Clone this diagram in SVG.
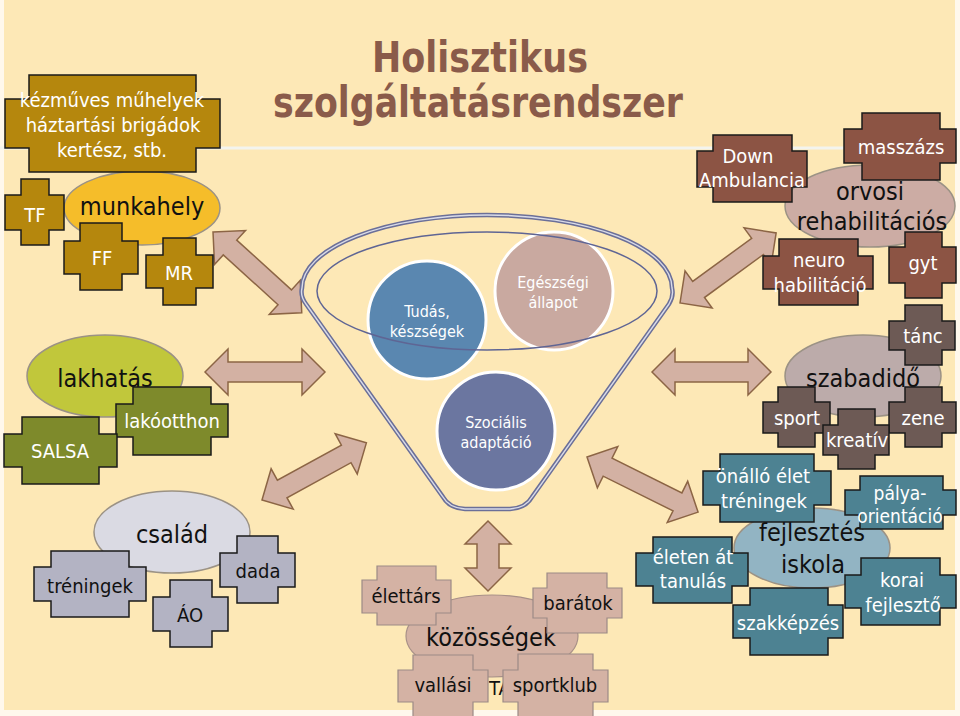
<svg xmlns="http://www.w3.org/2000/svg" width="960" height="716" viewBox="0 0 960 716">
<style>
text{font-family:"DejaVu Sans Condensed","DejaVu Sans",sans-serif;text-anchor:middle}
.w{fill:#fff;font-size:20px}
.k{fill:#111;font-size:20px}
.big{fill:#111;font-size:25px}
.ct{fill:#fff;font-size:16px}
.box{stroke:#1a1a1a;stroke-width:1.5}
.gold{fill:#B5870D}
.olive{fill:#7E8A2B}
.gray{fill:#B3B3C3}
.pink{fill:#D4B2A4;stroke:#9C8A86;stroke-width:1.2}
.brown{fill:#8C5444}
.taupe{fill:#6D5A55}
.teal{fill:#4D8292}
.ell{stroke:#9B9285;stroke-width:1.5}
.arr{fill:#D3B1A3;stroke:#8C6545;stroke-width:1.5}
.title{fill:#8A5B4A;font-weight:bold;font-size:42px}
</style>
<rect x="0" y="0" width="960" height="716" fill="#FFF8EC"/>
<rect x="4" y="0" width="951" height="710" fill="#FDE8B6"/>
<line x1="0" y1="148" x2="955" y2="148" stroke="#F3F4EE" stroke-width="3"/>

<g id="title">
<text class="title" x="480" y="72" textLength="216" lengthAdjust="spacingAndGlyphs">Holisztikus</text>
<text class="title" x="478" y="117" textLength="410" lengthAdjust="spacingAndGlyphs">szolgáltatásrendszer</text>
</g>

<g id="connectors">
<path class="arr" transform="translate(213,232) rotate(42.3)" d="M0,0 L23,-23 L23,-10 L97,-10 L97,-23 L120,0 L97,23 L97,10 L23,10 L23,23 Z"/>
<path class="arr" transform="translate(205,372)" d="M0,0 L23,-23 L23,-10 L97,-10 L97,-23 L120,0 L97,23 L97,10 L23,10 L23,23 Z"/>
<path class="arr" transform="translate(262,500) rotate(-28.7)" d="M0,0 L23,-23 L23,-10 L96,-10 L96,-23 L119,0 L96,23 L96,10 L23,10 L23,23 Z"/>
<path class="arr" transform="translate(488,521) rotate(90)" d="M0,0 L23,-23 L23,-11 L47,-11 L47,-23 L70,0 L47,23 L47,11 L23,11 L23,23 Z"/>
<path class="arr" transform="translate(587,457) rotate(26.4)" d="M0,0 L23,-23 L23,-10 L101,-10 L101,-23 L124,0 L101,23 L101,10 L23,10 L23,23 Z"/>
<path class="arr" transform="translate(652,372)" d="M0,0 L23,-23 L23,-10 L96,-10 L96,-23 L119,0 L96,23 L96,10 L23,10 L23,23 Z"/>
<path class="arr" transform="translate(680,303) rotate(-36.1)" d="M0,0 L23,-23 L23,-10 L96,-10 L96,-23 L119,0 L96,23 L96,10 L23,10 L23,23 Z"/>
</g>

<g id="funnel">
<path d="M306,304 Q300,296 302,288 A185,73 0 0 1 672,288 Q674,296 669,304 L532,497 Q526,508 510,509 L465,509 Q449,508 443,497 Z" fill="none" stroke="#6B6F98" stroke-width="4.5"/>
<path d="M306,304 Q300,296 302,288 A185,73 0 0 1 672,288 Q674,296 669,304 L532,497 Q526,508 510,509 L465,509 Q449,508 443,497 Z" fill="none" stroke="#D9DBE8" stroke-width="1.4"/>
</g>
<g id="tudas">
<circle cx="427" cy="320" r="59" fill="#5A87B0" stroke="#fff" stroke-width="3"/>
<text class="ct" x="427" y="317">Tudás,</text>
<text class="ct" x="427" y="337">készségek</text>
</g>
<g id="egeszsegi">
<circle cx="554" cy="291" r="59" fill="#C9A9A0" stroke="#fff" stroke-width="3"/>
<text class="ct" x="553" y="288">Egészségi</text>
<text class="ct" x="553" y="308">állapot</text>
</g>
<g id="szocialis">
<circle cx="496" cy="431" r="59" fill="#6B76A0" stroke="#fff" stroke-width="3"/>
<text class="ct" x="496" y="428">Szociális</text>
<text class="ct" x="496" y="448">adaptáció</text>
</g>
<g id="inner-ellipse">
<ellipse cx="487" cy="291" rx="170" ry="59" fill="none" stroke="#5F6594" stroke-width="1.5"/>
</g>

<g id="munkahely">
<ellipse class="ell" cx="142" cy="208" rx="78" ry="37" fill="#F5BD2A"/>
<text class="big" x="142" y="215">munkahely</text>
</g>
<g id="kezmuves">
<path class="box gold" d="M29,75 H196 V99 H220 V148 H196 V172 H29 V148 H5 V99 H29 Z"/>
<text class="w" x="112" y="107">kézműves műhelyek</text>
<text class="w" x="113" y="132">háztartási brigádok</text>
<text class="w" x="112" y="157">kertész, stb.</text>
</g>
<g id="tf">
<path class="box gold" d="M21,179 H49 V195 H64 V230 H49 V245 H21 V230 H5 V195 H21 Z"/>
<text class="w" x="35" y="222">TF</text>
</g>
<g id="ff">
<path class="box gold" d="M80,223 H122 V241 H138 V274 H122 V290 H80 V274 H64 V241 H80 Z"/>
<text class="w" x="102" y="265">FF</text>
</g>
<g id="mr">
<path class="box gold" d="M163,238 H196 V255 H213 V288 H196 V305 H163 V288 H146 V255 H163 Z"/>
<text class="w" x="179" y="280">MR</text>
</g>

<g id="lakhatas">
<ellipse class="ell" cx="105" cy="376" rx="78" ry="41" fill="#C1C73B"/>
<text class="big" x="105" y="387">lakhatás</text>
</g>
<g id="lakootthon">
<path class="box olive" d="M133,387 H211 V404 H228 V437 H211 V455 H133 V437 H116 V404 H133 Z"/>
<text class="w" x="172" y="428">lakóotthon</text>
</g>
<g id="salsa">
<path class="box olive" d="M22,417 H99 V434 H117 V467 H99 V484 H22 V467 H4 V434 H22 Z"/>
<text class="w" x="60" y="458">SALSA</text>
</g>

<g id="csalad">
<ellipse class="ell" cx="172" cy="532" rx="78" ry="41" fill="#DADAE3"/>
<text class="big" x="172" y="543">család</text>
</g>
<g id="treningek">
<path class="box gray" d="M51,551 H129 V567 H146 V601 H129 V617 H51 V601 H34 V567 H51 Z"/>
<text class="k" x="90" y="593">tréningek</text>
</g>
<g id="ao">
<path class="box gray" d="M170,580 H212 V597 H228 V631 H212 V647 H170 V631 H153 V597 H170 Z"/>
<text class="k" x="190" y="622">ÁO</text>
</g>
<g id="dada">
<path class="box gray" d="M237,536 H278 V553 H295 V587 H278 V603 H237 V587 H220 V553 H237 Z"/>
<text class="k" x="258" y="578">dada</text>
</g>

<g id="kozossegek">
<ellipse cx="492" cy="636" rx="86" ry="41" fill="#D4B2A4" stroke="#A89088" stroke-width="1.2"/>
<text class="big" x="491" y="646">közösségek</text>
<text class="k" x="489" y="695" style="text-anchor:start">TA</text>
</g>
<g id="elettars">
<path class="pink" d="M377,566 H436 V580 H451 V613 H436 V625 H377 V613 H362 V580 H377 Z"/>
<text class="k" x="406" y="603">élettárs</text>
</g>
<g id="baratok">
<path class="pink" d="M547,573 H607 V588 H622 V618 H607 V633 H547 V618 H533 V588 H547 Z"/>
<text class="k" x="578" y="610">barátok</text>
</g>
<g id="vallasi">
<path class="pink" d="M413,655 H473 V670 H488 V702 H473 V725 H413 V702 H398 V670 H413 Z"/>
<text class="k" x="443" y="692">vallási</text>
</g>
<g id="sportklub">
<path class="pink" d="M518,654 H593 V670 H608 V702 H593 V725 H518 V702 H503 V670 H518 Z"/>
<text class="k" x="555" y="692">sportklub</text>
</g>

<g id="orvosi">
<ellipse class="ell" cx="870" cy="206" rx="85" ry="41" fill="#CCACA4"/>
<text class="big" x="870" y="200">orvosi</text>
<text class="big" x="872" y="230">rehabilitációs</text>
</g>
<g id="down">
<path class="box brown" d="M713,135 H792 V151 H807 V187 H792 V202 H713 V187 H697 V151 H713 Z"/>
<text class="w" x="748" y="163">Down</text>
<text class="w" x="752" y="187">Ambulancia</text>
</g>
<g id="masszazs">
<path class="box brown" d="M862,113 H940 V129 H956 V163 H940 V180 H862 V163 H844 V129 H862 Z"/>
<text class="w" x="901" y="154">masszázs</text>
</g>
<g id="neuro">
<path class="box brown" d="M779,239 H858 V256 H873 V289 H858 V305 H779 V289 H763 V256 H779 Z"/>
<text class="w" x="819" y="267">neuro</text>
<text class="w" x="820" y="292">habilitáció</text>
</g>
<g id="gyt">
<path class="box brown" d="M905,232 H942 V247 H956 V283 H942 V298 H905 V283 H889 V247 H905 Z"/>
<text class="w" x="923" y="270">gyt</text>
</g>

<g id="szabadido">
<ellipse class="ell" cx="863" cy="376" rx="78" ry="41" fill="#BCABAA"/>
<text class="big" x="863" y="387">szabadidő</text>
</g>
<g id="tanc">
<path class="box taupe" d="M905,305 H942 V321 H955 V350 H942 V365 H905 V350 H889 V321 H905 Z"/>
<text class="w" x="923" y="343">tánc</text>
</g>
<g id="sport">
<path class="box taupe" d="M778,387 H815 V402 H830 V433 H815 V447 H778 V433 H763 V402 H778 Z"/>
<text class="w" x="797" y="425">sport</text>
</g>
<g id="zene">
<path class="box taupe" d="M905,387 H942 V402 H956 V433 H942 V447 H905 V433 H889 V402 H905 Z"/>
<text class="w" x="923" y="425">zene</text>
</g>
<g id="kreativ">
<path class="box taupe" d="M838,409 H875 V425 H889 V455 H875 V469 H838 V455 H823 V425 H838 Z"/>
<text class="w" x="857" y="447">kreatív</text>
</g>

<g id="fejlesztes">
<ellipse class="ell" cx="812" cy="548" rx="78" ry="40" fill="#92B4C3"/>
<text class="big" x="812" y="541">fejlesztés</text>
<text class="big" x="813" y="573">iskola</text>
</g>
<g id="onallo">
<path class="box teal" d="M720,454 H814 V471 H831 V505 H814 V522 H720 V505 H703 V471 H720 Z"/>
<text class="w" x="763" y="483">önálló élet</text>
<text class="w" x="764" y="508">tréningek</text>
</g>
<g id="palya">
<path class="box teal" d="M860,476 H943 V490 H956 V515 H943 V529 H860 V515 H845 V490 H860 Z"/>
<text class="w" x="900" y="500" style="font-size:19px">pálya-</text>
<text class="w" x="900" y="523" style="font-size:19px">orientáció</text>
</g>
<g id="eleten">
<path class="box teal" d="M653,537 H732 V553 H748 V586 H732 V603 H653 V586 H636 V553 H653 Z"/>
<text class="w" x="693" y="564">életen át</text>
<text class="w" x="693" y="588">tanulás</text>
</g>
<g id="korai">
<path class="box teal" d="M861,558 H940 V575 H956 V608 H940 V625 H861 V608 H845 V575 H861 Z"/>
<text class="w" x="902" y="587">korai</text>
<text class="w" x="903" y="612">fejlesztő</text>
</g>
<g id="szakkepzes">
<path class="box teal" d="M750,588 H828 V605 H843 V638 H828 V655 H750 V638 H733 V605 H750 Z"/>
<text class="w" x="788" y="630">szakképzés</text>
</g>
</svg>
